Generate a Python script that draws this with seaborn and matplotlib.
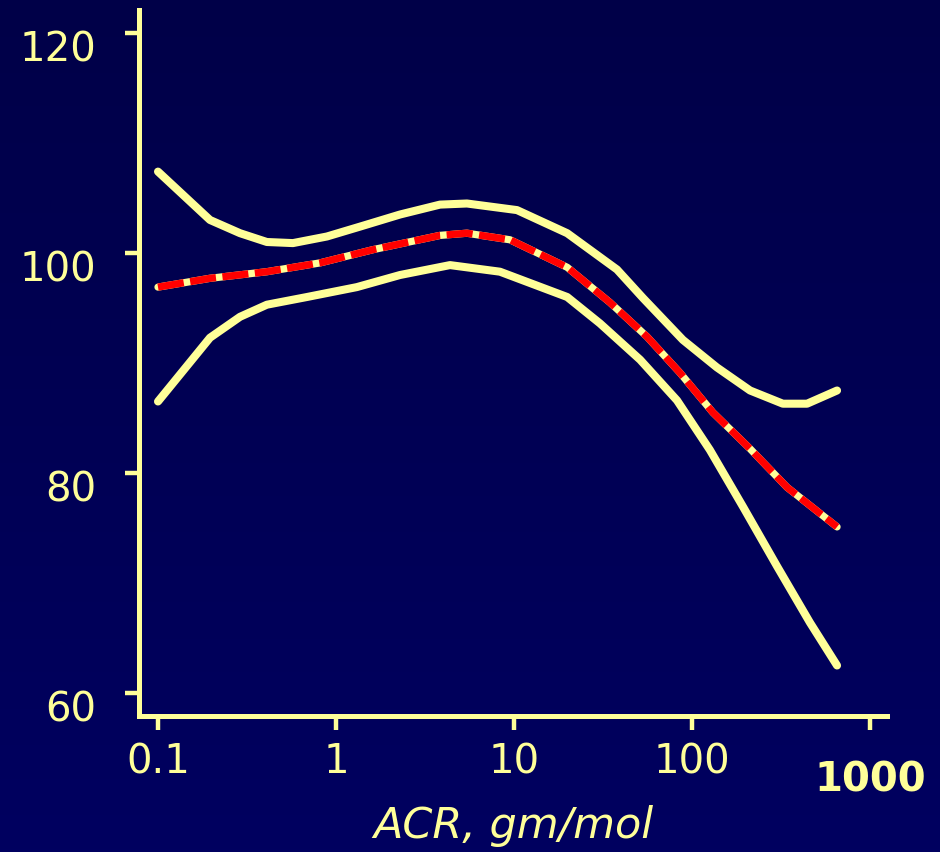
import numpy as np
import matplotlib
matplotlib.use("Agg")
import matplotlib.pyplot as plt
import matplotlib.transforms as mtransforms
import pandas as pd
import seaborn as sns

# Albumin-to-creatinine ratio (gm/mol) and fitted outcome with 95% band
upper_x = [0.1, 0.196, 0.289, 0.409, 0.573, 0.889, 1.365, 2.29, 3.84, 5.44, 10.4,
           19.9, 37.9, 53.1, 88.9, 138, 212, 324, 443, 653]
upper_y = [107.4, 103.0, 101.8, 101.0, 100.9, 101.5, 102.4, 103.5, 104.4, 104.5, 103.9,
           101.8, 98.5, 95.9, 92.1, 89.6, 87.5, 86.3, 86.3, 87.5]

mid_x = [0.1, 0.196, 0.409, 0.813, 1.61, 3.84, 5.44, 9.5, 19.9, 34.6, 55.8, 85.7,
         131, 212, 342, 653]
mid_y = [96.9, 97.7, 98.3, 99.1, 100.3, 101.6, 101.8, 101.2, 98.7, 95.5, 92.4, 89.1,
         85.5, 82.2, 78.7, 75.1]

lower_x = [0.1, 0.196, 0.289, 0.409, 0.687, 1.31, 2.29, 4.37, 8.34, 19.9, 30.4, 51.1,
           82.4, 126, 194, 301, 460, 653]
lower_y = [86.5, 92.3, 94.2, 95.3, 96.0, 96.9, 98.0, 98.9, 98.3, 96.0, 93.6, 90.3,
           86.6, 82.1, 76.9, 71.5, 66.4, 62.5]

x_ticks = [0.1, 1, 10, 100, 1000]
x_tick_labels = ["0.1", "1", "10", "100", "1000"]
y_ticks = [60, 80, 100, 120]
x_label = "ACR, gm/mol"

PALE = "#FFFF99"
RED = "#FF0000"

sns.set_style("white")
plt.rcParams["font.family"] = ["DejaVu Sans"]

fig = plt.figure(figsize=(9.4, 8.52), dpi=100)

# navy backdrop, slightly lighter towards the bottom
bg = fig.add_axes([0, 0, 1, 1], zorder=-10)
grad = np.linspace(0, 1, 256).reshape(-1, 1)
cmap = matplotlib.colors.LinearSegmentedColormap.from_list("navy", ["#000048", "#000060"])
bg.imshow(grad, aspect="auto", cmap=cmap, extent=[0, 1, 0, 1], origin="upper")
bg.set_axis_off()

ax = fig.add_axes([139 / 940, 1 - 716 / 852, (887 - 139) / 940, (716 - 10) / 852])
ax.patch.set_alpha(0)

upper = pd.DataFrame({"acr": upper_x, "val": upper_y})
mid = pd.DataFrame({"acr": mid_x, "val": mid_y})
lower = pd.DataFrame({"acr": lower_x, "val": lower_y})

lw = 5.8
for band in (upper, lower):
    sns.lineplot(data=band, x="acr", y="val", ax=ax, color=PALE, lw=lw,
                 sort=False, estimator=None)
    ax.lines[-1].set_solid_joinstyle("round")
sns.lineplot(data=mid, x="acr", y="val", ax=ax, color=PALE, lw=lw * 0.9,
             sort=False, estimator=None)
sns.lineplot(data=mid, x="acr", y="val", ax=ax, color=RED, lw=lw * 0.9,
             sort=False, estimator=None)
ax.lines[-1].set_dashes([3.6, 0.9])
ax.lines[-1].set_dash_capstyle("butt")

ax.set_xscale("log")
ax.set_xlim(10 ** (-1 - 19 / 178), 10 ** (3 + 17 / 178))
ax.set_ylim(60 - 23 / 11, 120 + 23 / 11)

for side in ("top", "right"):
    ax.spines[side].set_visible(False)
for side in ("left", "bottom"):
    ax.spines[side].set_color(PALE)
    ax.spines[side].set_linewidth(3.6)

ax.set_xticks(x_ticks)
ax.set_xticklabels(x_tick_labels)
ax.xaxis.set_minor_locator(matplotlib.ticker.NullLocator())
ax.set_yticks(y_ticks)
ax.tick_params(axis="both", which="major", bottom=True, left=True, colors=PALE,
               width=3.2, length=10, direction="out", labelsize=29, labelcolor=PALE)
ax.tick_params(axis="x", pad=9)
ax.tick_params(axis="y", pad=21)

# y labels sit a little below their ticks
offset_y = mtransforms.ScaledTranslation(0, -0.13, fig.dpi_scale_trans)
for lab in ax.get_yticklabels():
    lab.set_transform(lab.get_transform() + offset_y)

# the last decade label is bold and dropped lower
last = ax.get_xticklabels()[-1]
last.set_fontweight("bold")
last.set_transform(last.get_transform() + mtransforms.ScaledTranslation(0, -0.18, fig.dpi_scale_trans))

ax.set_xlabel(x_label, color=PALE, fontsize=31, style="italic", labelpad=3)
ax.set_ylabel("")

fig.savefig("out.png", dpi=100)
